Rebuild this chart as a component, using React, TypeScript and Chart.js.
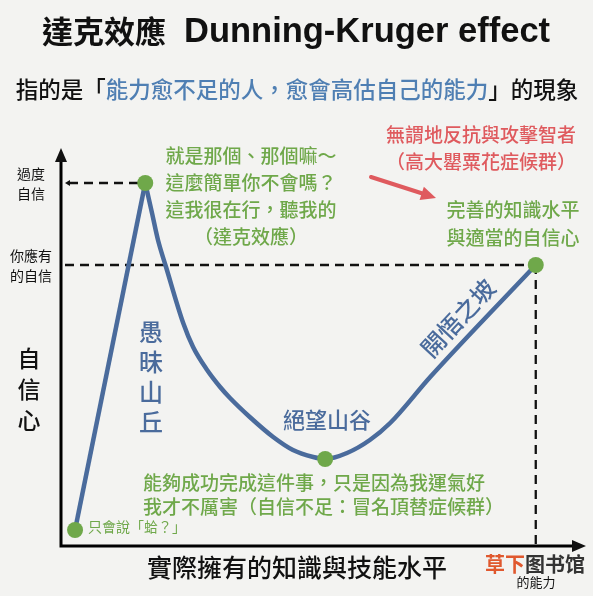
import React, { useEffect, useRef } from "react";
import { Chart, registerables } from "chart.js";
Chart.register(...registerables);

// Knowledge (x, 0-100) vs confidence (y, 0-100)
const climbX = [2.7, 16.2];
const climbY = [4, 90.75];
const curveX = [16.2, 17.5, 18.65, 20.2, 23.5, 25.4, 28.1, 30.6, 32.5, 36.3, 40.8, 44.6, 48.5, 50.8, 55, 59.4, 63.3, 71, 91.3];
const curveY = [90.75, 83.25, 76.5, 69.75, 55.75, 49.75, 44, 39.75, 37, 32.25, 27.25, 24, 22.25, 21.75, 23.25, 26.5, 30.75, 42.25, 70.25];
const markX = [2.7, 16.2, 50.8, 91.3];
const markY = [4, 90.75, 21.75, 70.25];

const titleCJK = "達克效應";
const titleLatin = "Dunning-Kruger effect";
const subtitleParts = ["指的是「", "能力愈不足的人，愈會高估自己的能力", "」的現象"];
const yTickGroups = [["過度", "自信"], ["你應有", "的自信"]];
const yAxisTitle = ["自", "信", "心"];
const xAxisTitle = "實際擁有的知識與技能水平";
const hillLabel = ["愚", "昧", "山", "丘"];
const valleyLabel = "絕望山谷";
const slopeLabel = "開悟之坡";
const peakNote = ["就是那個、那個嘛～", "這麼簡單你不會嗎？", "這我很在行，聽我的", "（達克效應）"];
const redNote = ["無謂地反抗與攻擊智者", "（高大罌粟花症候群）"];
const goalNote = ["完善的知識水平", "與適當的自信心"];
const valleyNote = ["能夠成功完成這件事，只是因為我運氣好", "我才不厲害（自信不足：冒名頂替症候群）"];
const startNote = "只會說「蛤？」";

const FONT = '"Noto Sans CJK TC", "Noto Sans CJK SC", sans-serif';
const LATIN = '"Liberation Sans", "Noto Sans CJK TC", sans-serif';
const GREEN = "#6fa84a";
const BLUE = "#4a6b9c";
const RED = "#df5a5e";

const pts = (xs: number[], ys: number[]) => xs.map((x, i) => ({ x, y: ys[i] }));

export default function App() {
  const ref = useRef<HTMLCanvasElement>(null);
  useEffect(() => {
    const canvas = ref.current!;
    const deco = {
      id: "deco",
      beforeDatasetsDraw(chart: any) {
        const { ctx, scales } = chart;
        const xs = scales.x, ys = scales.y;
        const x0 = xs.getPixelForValue(0), y0 = ys.getPixelForValue(0);
        const peakX = xs.getPixelForValue(markX[1]), peakY = ys.getPixelForValue(markY[1]);
        const endX = xs.getPixelForValue(markX[3]), endY = ys.getPixelForValue(markY[3]);
        ctx.save();
        // dashed guides
        ctx.strokeStyle = "#111";
        ctx.lineWidth = 2.3;
        ctx.setLineDash([9, 6]);
        ctx.beginPath();
        ctx.moveTo(x0 + 8, peakY); ctx.lineTo(peakX, peakY);
        ctx.moveTo(x0 + 4, endY); ctx.lineTo(endX, endY);
        ctx.moveTo(endX, endY); ctx.lineTo(endX, y0);
        ctx.stroke();
        ctx.setLineDash([]);
        ctx.fillStyle = "#111";
        ctx.beginPath();
        ctx.moveTo(x0 + 4, peakY); ctx.lineTo(x0 + 9, peakY - 3); ctx.lineTo(x0 + 9, peakY + 3); ctx.closePath();
        ctx.fill();
        // axes
        ctx.strokeStyle = "#000";
        ctx.lineWidth = 3;
        ctx.beginPath();
        ctx.moveTo(x0, y0 + 1.5); ctx.lineTo(x0, 158);
        ctx.moveTo(x0 - 1.5, y0); ctx.lineTo(575, y0);
        ctx.stroke();
        ctx.beginPath();
        ctx.moveTo(x0, 148); ctx.lineTo(x0 - 6, 162); ctx.lineTo(x0 + 6, 162); ctx.closePath();
        ctx.moveTo(586, y0); ctx.lineTo(572, y0 - 6); ctx.lineTo(572, y0 + 6); ctx.closePath();
        ctx.fill();
        ctx.restore();
      },
      afterDraw(chart: any) {
        const { ctx } = chart;
        ctx.save();
        ctx.textBaseline = "middle";
        // title
        ctx.fillStyle = "#111";
        ctx.textAlign = "left";
        ctx.font = `bold 31px ${FONT}`;
        ctx.fillText(titleCJK, 42, 31);
        ctx.font = `bold 34.5px ${LATIN}`;
        ctx.fillText(titleLatin, 184, 32);
        // subtitle in colours
        ctx.font = `500 22.5px ${FONT}`;
        const widths = subtitleParts.map((s) => ctx.measureText(s).width);
        let sx = 297 - widths.reduce((a, b) => a + b, 0) / 2;
        subtitleParts.forEach((s, i) => {
          ctx.fillStyle = i === 1 ? "#4f7fb3" : "#111";
          ctx.fillText(s, sx, 89);
          sx += widths[i];
        });
        ctx.textAlign = "center";
        // y tick labels
        ctx.fillStyle = "#111";
        ctx.font = `14px ${FONT}`;
        const tickYs = [[174, 194], [256, 276]];
        yTickGroups.forEach((g, gi) => g.forEach((t, i) => ctx.fillText(t, 31, tickYs[gi][i])));
        // y axis title
        ctx.font = `500 23px ${FONT}`;
        yAxisTitle.forEach((t, i) => ctx.fillText(t, 29, 358 + i * 31));
        // x axis title
        ctx.font = `500 25px ${FONT}`;
        ctx.fillText(xAxisTitle, 297, 567);
        ctx.font = `13px ${FONT}`;
        ctx.fillText("的能力", 536, 582);
        ctx.font = `bold 20px ${FONT}`;
        ctx.textAlign = "left";
        ctx.fillStyle = "#e0582e";
        ctx.fillText("草下", 485, 564);
        ctx.fillStyle = "#333";
        ctx.fillText("图书馆", 525, 564);
        ctx.textAlign = "center";
        // blue labels
        ctx.fillStyle = BLUE;
        ctx.font = `500 24px ${FONT}`;
        hillLabel.forEach((t, i) => ctx.fillText(t, 151, 332 + i * 30));
        ctx.font = `500 22px ${FONT}`;
        ctx.fillText(valleyLabel, 327, 420);
        ctx.save();
        ctx.translate(458, 318);
        ctx.rotate((-47 * Math.PI) / 180);
        ctx.font = `500 24px ${FONT}`;
        ctx.fillText(slopeLabel, 0, 0);
        ctx.restore();
        // green notes
        ctx.fillStyle = GREEN;
        ctx.font = `500 19px ${FONT}`;
        peakNote.forEach((t, i) => ctx.fillText(t, 251, 156 + i * 27));
        goalNote.forEach((t, i) => ctx.fillText(t, 513, 210 + i * 28));
        ctx.textAlign = "left";
        valleyNote.forEach((t, i) => ctx.fillText(t, 143, 483 + i * 24));
        ctx.font = `14px ${FONT}`;
        ctx.fillText(startNote, 88, 527);
        // red note
        ctx.textAlign = "center";
        ctx.fillStyle = RED;
        ctx.font = `500 19px ${FONT}`;
        redNote.forEach((t, i) => ctx.fillText(t, 481, 135 + i * 27));
        // red arrow
        ctx.strokeStyle = RED;
        ctx.lineWidth = 4;
        ctx.lineCap = "round";
        ctx.beginPath();
        ctx.moveTo(371, 177); ctx.lineTo(424, 194);
        ctx.stroke();
        ctx.beginPath();
        const ang = Math.atan2(198 - 177, 436 - 371);
        ctx.translate(436, 198);
        ctx.rotate(ang);
        ctx.moveTo(0, 0); ctx.lineTo(-15, -7); ctx.lineTo(-15, 7); ctx.closePath();
        ctx.fill();
        ctx.restore();
      },
    };
    const bg = {
      id: "bg",
      beforeDraw(chart: any) {
        const { ctx, width, height } = chart;
        ctx.save();
        ctx.fillStyle = "#f3f3f1";
        ctx.fillRect(0, 0, width, height);
        ctx.restore();
      },
    };
    const chart = new Chart(canvas, {
      type: "scatter",
      data: {
        datasets: [
          {
            data: pts(markX, markY),
            showLine: false,
            pointRadius: 8,
            pointBackgroundColor: GREEN,
            pointBorderWidth: 0,
            order: 0,
          },
          {
            data: pts(climbX, climbY),
            showLine: true,
            borderColor: BLUE,
            borderWidth: 4.5,
            pointRadius: 0,
            order: 2,
          },
          {
            data: pts(curveX, curveY),
            showLine: true,
            borderColor: BLUE,
            borderWidth: 4.5,
            pointRadius: 0,
            cubicInterpolationMode: "monotone",
            order: 1,
          },
        ],
      },
      options: {
        responsive: false,
        animation: false,
        devicePixelRatio: 1,
        layout: { padding: { left: 61, right: 12, top: 146, bottom: 50 } },
        plugins: { legend: { display: false }, tooltip: { enabled: false } },
        scales: {
          x: { type: "linear", min: 0, max: 100, display: false },
          y: { type: "linear", min: 0, max: 100, display: false },
        },
      },
      plugins: [bg, deco],
    } as any);
    return () => chart.destroy();
  }, []);
  return (
    <div style={{ position: "fixed", left: 0, top: 0, width: 593, height: 596 }}>
      <canvas ref={ref} width={593} height={596} style={{ display: "block" }} />
    </div>
  );
}
